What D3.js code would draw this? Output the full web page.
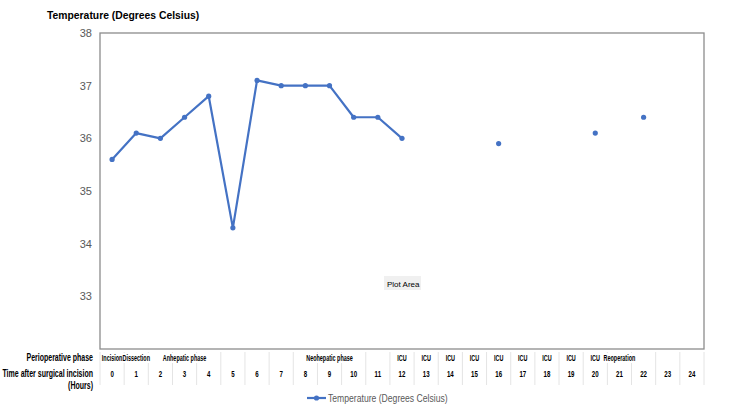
<!DOCTYPE html>
<html>
<head>
<meta charset="utf-8">
<script src="https://cdn.jsdelivr.net/npm/d3@7"></script>
<style>
  body { margin: 0; background: #fff; }
  text { font-family: "Liberation Sans", Arial, sans-serif; }
  .narrow { font-weight: bold; }
</style>
</head>
<body>
<div id="chart"></div>
<script>
var svgWidth = 750;
var svgHeight = 417;
var margin = ({top: 33, right: 46, bottom: 68, left: 100});
var lineColor = "#4472C4";

// data
var hours = d3.range(0, 25);
var temps = [35.6, 36.1, 36.0, 36.4, 36.8, 34.3, 37.1, 37.0, 37.0, 37.0, 36.4, 36.4, 36.0,
             null, null, null, 35.9, null, null, null, 36.1, null, 36.4, null, null];
var phases = ["Incision", "Dissection", "", "Anhepatic phase", "", "", "", "", "", "Neohepatic phase", "", "",
              "ICU", "ICU", "ICU", "ICU", "ICU", "ICU", "ICU", "ICU", "ICU", "Reoperation", "", "", ""];
var yTicks = [33, 34, 35, 36, 37, 38];

var data = hours.map((h, i) => ({hour: h, temp: temps[i], phase: phases[i]}));

// squeeze text horizontally to mimic the condensed table font
function squeeze(sel, k) {
    sel.each(function () {
        var len = this.getComputedTextLength();
        d3.select(this).attr("textLength", len * k).attr("lengthAdjust", "spacingAndGlyphs");
    });
}

var svg = d3.select("#chart").append("svg")
    .attr("width", svgWidth)
    .attr("height", svgHeight);

var w = svgWidth - margin.left - margin.right;
var h = svgHeight - margin.top - margin.bottom;

var x = d3.scaleBand()
    .domain(hours)
    .range([margin.left, margin.left + w])
    .padding(0);
var y = d3.scaleLinear()
    .domain([32, 38])
    .range([margin.top + h, margin.top]);

// title
var title = svg.append("text")
    .attr("x", 47).attr("y", 19)
    .style("font-size", "11.5px").style("font-weight", "bold")
    .attr("fill", "#000")
    .text("Temperature (Degrees Celsius)");
squeeze(title, 0.9);

// plot border
svg.append("rect")
    .attr("x", margin.left).attr("y", margin.top)
    .attr("width", w).attr("height", h)
    .attr("fill", "none").attr("stroke", "#8c8c8c").attr("stroke-width", 1.3);

// y axis labels
var yaxis = svg.append("g")
    .attr("transform", "translate(" + margin.left + ",0)")
    .call(d3.axisLeft(y).tickValues(yTicks).tickFormat(d3.format("d")).tickSize(0).tickPadding(8));
yaxis.select(".domain").remove();
yaxis.selectAll("text")
    .style("font-size", "11px")
    .style("font-family", "'Liberation Sans', Arial, sans-serif")
    .attr("fill", "#595959");

// line + markers
var line = d3.line()
    .defined(d => d.temp != null)
    .x(d => x(d.hour) + x.bandwidth() / 2)
    .y(d => y(d.temp));
svg.append("path")
    .datum(data)
    .attr("fill", "none")
    .attr("stroke", lineColor)
    .attr("stroke-width", 2.2)
    .attr("stroke-linejoin", "round")
    .attr("d", line);
svg.selectAll(".pt")
    .data(data.filter(d => d.temp != null))
    .enter().append("circle")
    .attr("class", "pt")
    .attr("cx", d => x(d.hour) + x.bandwidth() / 2)
    .attr("cy", d => y(d.temp))
    .attr("r", 2.6)
    .attr("fill", lineColor);

// "Plot Area" hover label
var pa = svg.append("g").attr("transform", "translate(384,276)");
pa.append("rect").attr("width", 37).attr("height", 14).attr("fill", "#f0f0f0");
pa.append("text").attr("x", 3).attr("y", 10.5)
    .style("font-size", "8px").attr("fill", "#000").text("Plot Area");

// data table
var row1 = 361, row2 = 377;
var table = svg.append("g");
table.selectAll(".vline")
    .data(d3.range(0, 26))
    .enter().append("line")
    .attr("class", "vline")
    .attr("x1", i => margin.left + i * x.step())
    .attr("x2", i => margin.left + i * x.step())
    .attr("y1", margin.top + h + 3)
    .attr("y2", 385)
    .attr("stroke", "#e4e4e4").attr("stroke-width", 1);

var bg = table.append("g");
var phaseText = table.selectAll(".phase")
    .data(data.filter(d => d.phase !== ""))
    .enter().append("text")
    .attr("class", "phase narrow")
    .attr("x", d => x(d.hour) + x.bandwidth() / 2)
    .attr("y", row1)
    .attr("text-anchor", "middle")
    .style("font-size", "8.5px")
    .attr("fill", "#000")
    .text(d => d.phase);
squeeze(phaseText, 0.64);
// white backing so spanned grid lines are hidden behind the labels
phaseText.each(function () {
    var b = this.getBBox();
    bg.append("rect")
        .attr("x", b.x - 1).attr("y", b.y)
        .attr("width", b.width + 2).attr("height", b.height)
        .attr("fill", "#fff");
});

var hourText = table.selectAll(".hr")
    .data(data)
    .enter().append("text")
    .attr("class", "hr narrow")
    .attr("x", d => x(d.hour) + x.bandwidth() / 2)
    .attr("y", row2)
    .attr("text-anchor", "middle")
    .style("font-size", "8.5px")
    .attr("fill", "#000")
    .text(d => d.hour);
squeeze(hourText, 0.72);

// row headers
var rowLabels = [["Perioperative phase", row1], ["Time after surgical incision", row2], ["(Hours)", row2 + 12]];
var rowText = svg.selectAll(".rowlab")
    .data(rowLabels)
    .enter().append("text")
    .attr("class", "rowlab narrow")
    .attr("x", 93).attr("y", d => d[1])
    .attr("text-anchor", "end")
    .style("font-size", "10px")
    .attr("fill", "#000")
    .text(d => d[0]);
squeeze(rowText, 0.7);

// legend
var lg = svg.append("g").attr("transform", "translate(307,398)");
lg.append("line").attr("x1", 0).attr("x2", 19).attr("y1", 0).attr("y2", 0)
    .attr("stroke", lineColor).attr("stroke-width", 2.2);
lg.append("circle").attr("cx", 9.5).attr("cy", 0).attr("r", 2.6).attr("fill", lineColor);
var lt = lg.append("text").attr("x", 21).attr("y", 3.5)
    .style("font-size", "10.5px").attr("fill", "#595959")
    .text("Temperature (Degrees Celsius)");
squeeze(lt, 0.82);
</script>
</body>
</html>
